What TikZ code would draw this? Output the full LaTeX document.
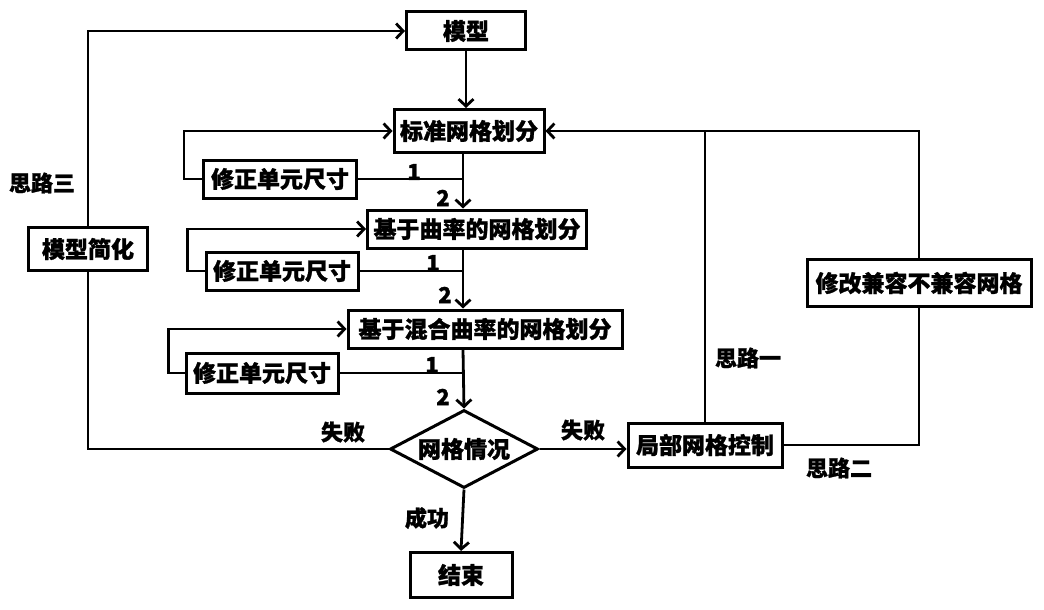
\documentclass[tikz,border=0pt]{standalone}
\usepackage{fontspec}
\setmainfont{Noto Sans CJK SC}[BoldFeatures={FakeBold=1.2}]
\usepackage{tikz}
\usetikzlibrary{shapes.geometric, arrows.meta, calc}

\begin{document}
\begin{tikzpicture}[
    x=1pt, y=-1pt,
    box/.style={draw, line width=3pt, inner sep=1pt, minimum height=38pt, align=center, font=\fontsize{23}{25}\selectfont\bfseries},
    judge/.style={draw, diamond, aspect=1.9, line width=3pt, inner sep=0pt, minimum width=148pt, minimum height=78pt, font=\fontsize{23}{25}\selectfont\bfseries},
    lbl/.style={font=\fontsize{22}{24}\selectfont\bfseries},
    line/.style={line width=2.8pt},
    arrow/.style={line width=2.8pt, -{Straight Barb[length=7pt,width=15pt]}}
]
    \useasboundingbox (0,0) rectangle (1044,610);

    % Main chain
    \node[box, minimum width=119pt] (moxing) at (466,31) {模型};
    \node[box, minimum width=150pt, minimum height=43pt] (biaozhun) at (469,131) {标准网格划分};
    \node[box, minimum width=219pt] (qulv) at (477,229) {基于曲率的网格划分};
    \node[box, minimum width=274pt] (hunhe) at (485,329) {基于混合曲率的网格划分};
    \node[judge] (qingkuang) at (464,449) {网格情况};
    \node[box, minimum width=102pt, minimum height=45pt] (jieshu) at (461,575) {结束};

    % Size corrections
    \node[box, minimum width=153pt] (xiuzheng1) at (280,179) {修正单元尺寸};
    \node[box, minimum width=152pt] (xiuzheng2) at (282,271) {修正单元尺寸};
    \node[box, minimum width=152pt, minimum height=40pt] (xiuzheng3) at (262,373) {修正单元尺寸};

    % Side branches
    \node[box, minimum width=119pt, minimum height=43pt] (jianhua) at (88,249) {模型简化};
    \node[box, minimum width=154pt, minimum height=44pt] (jubu) at (705,445) {局部网格控制};
    \node[box, minimum width=224pt, minimum height=47pt] (xiugai) at (919,283) {修改兼容不兼容网格};

    \coordinate (spine) at (463,0);

    \draw[arrow] (moxing.south) -- (moxing.south |- biaozhun.north);
    \draw[arrow] (biaozhun.south -| spine) -- (qulv.north -| spine);
    \draw[arrow] (qulv.south -| spine) -- (hunhe.north -| spine);
    \draw[arrow] (hunhe.south -| spine) -- (qingkuang.north);
    \draw[arrow] (qingkuang.south) -- (jieshu.north);

    % Loops
    \draw[line] (xiuzheng1.east) -- (xiuzheng1.east -| spine);
    \draw[arrow] (xiuzheng1.west) -- ++(-18,0) |- (biaozhun.west);
    \draw[line] (xiuzheng2.east) -- (xiuzheng2.east -| spine);
    \draw[arrow] (xiuzheng2.west) -- ++(-17,0) |- (qulv.west);
    \draw[line] (xiuzheng3.east) -- (xiuzheng3.east -| spine);
    \draw[arrow] (xiuzheng3.west) -- ++(-16,0) |- (hunhe.west);

    \node[lbl] (one1) at (414,172) {1};
    \node[lbl] (two1) at (443,198) {2};
    \node[lbl] (one2) at (433,263) {1};
    \node[lbl] (two2) at (445,295) {2};
    \node[lbl] (one3) at (432,365) {1};
    \node[lbl] (two3) at (443,397) {2};

    % Idea three
    \draw[line] (qingkuang.west) -| (jianhua.south);
    \draw[arrow] (jianhua.north) |- (moxing.west);
    \node[lbl] (fail1) at (343,432) {失败};
    \node[lbl] (idea3) at (42,183) {思路三};

    % Ideas one and two
    \draw[arrow] (qingkuang.east) -- (qingkuang.east -| jubu.west);
    \node[lbl] (fail2) at (583,430) {失败};
    \draw[line] (jubu.east) -| (xiugai.south);
    \draw[arrow] (xiugai.north) |- (biaozhun.east);
    \draw[line] (jubu.north) -- (jubu.north |- biaozhun.east);
    \node[lbl] (idea1) at (748,358) {思路一};
    \node[lbl] (idea2) at (839,468) {思路二};

    \node[lbl] (success) at (427,518) {成功};
\end{tikzpicture}
\end{document}
